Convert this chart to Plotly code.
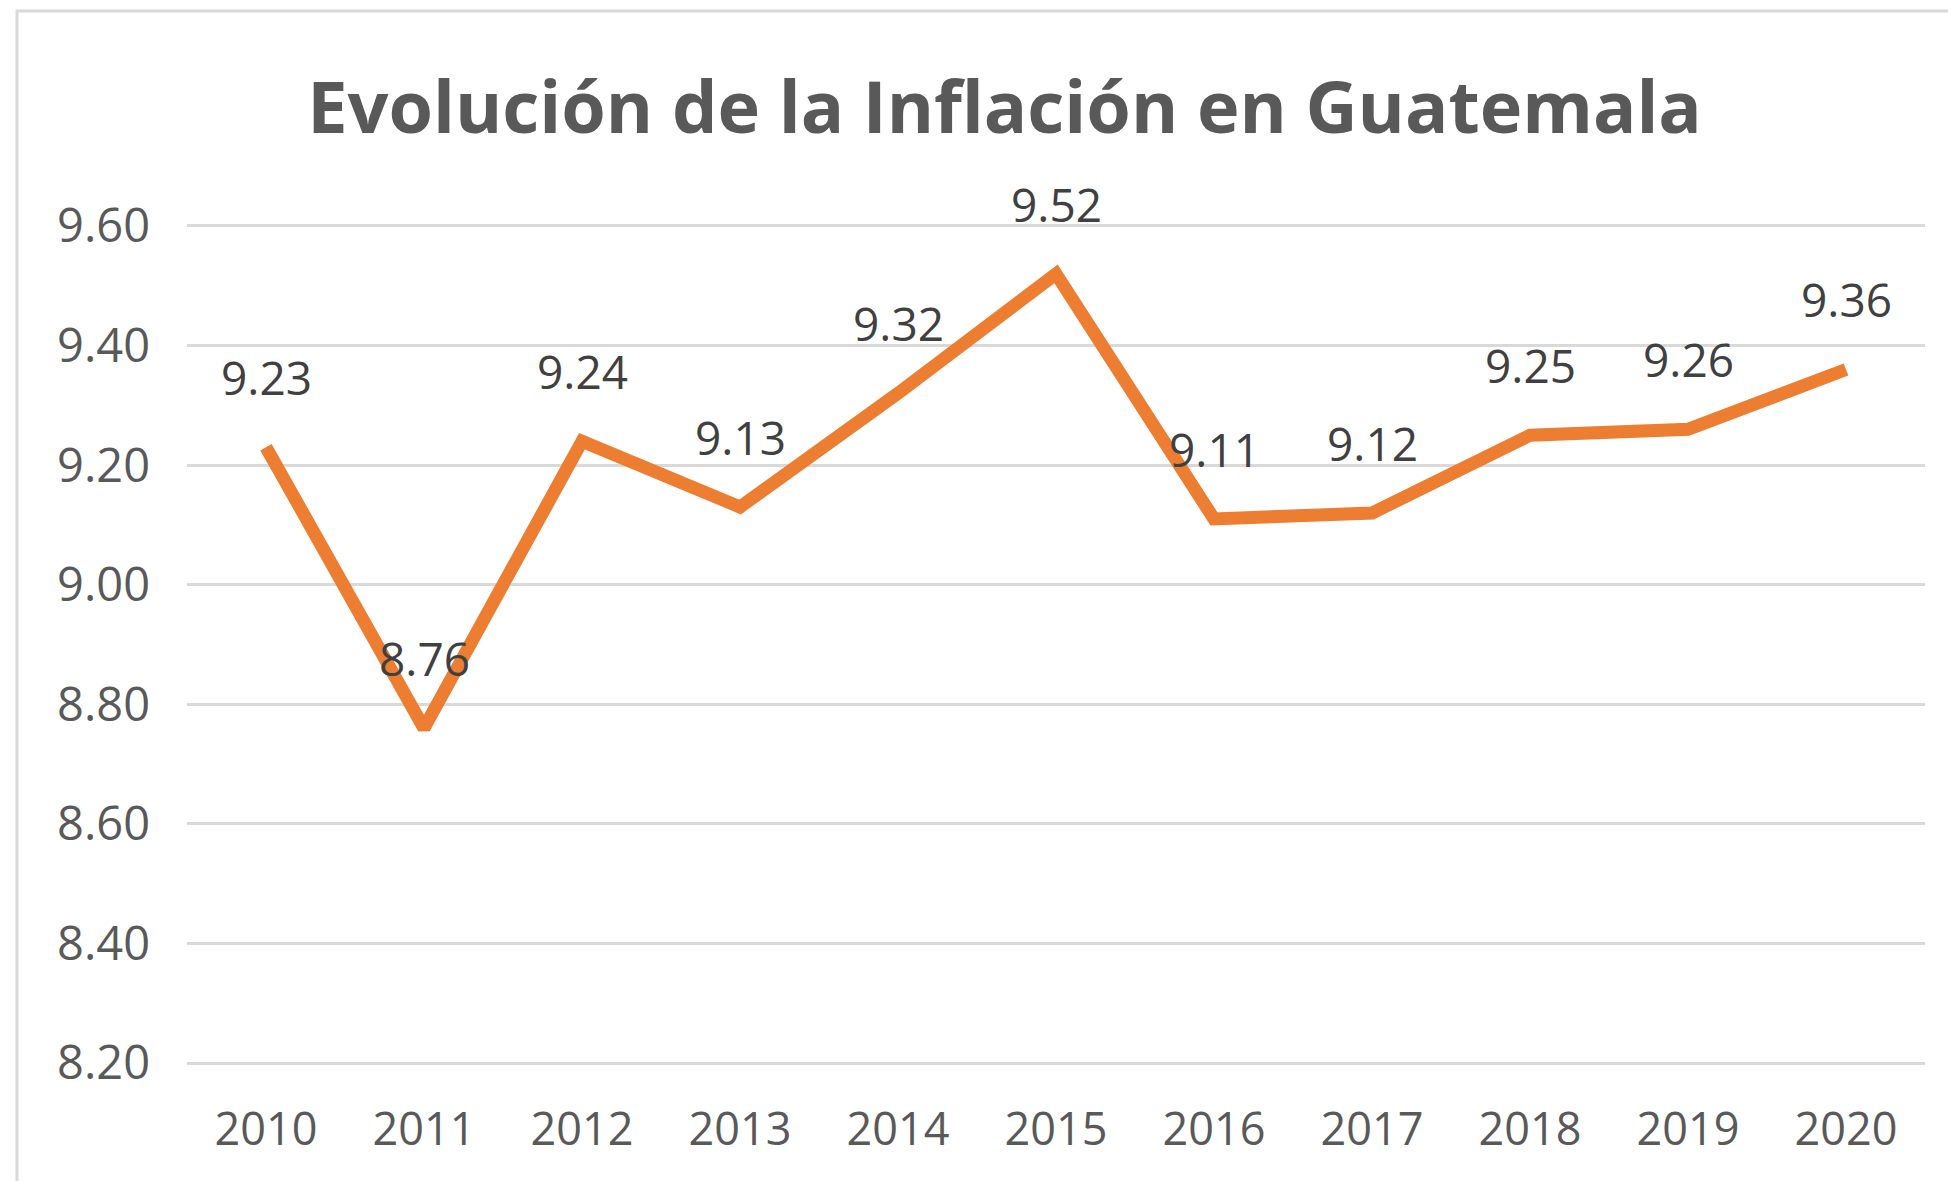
import plotly.graph_objects as go

years = ["2010", "2011", "2012", "2013", "2014", "2015", "2016", "2017", "2018", "2019", "2020"]
inflation = [9.23, 8.76, 9.24, 9.13, 9.32, 9.52, 9.11, 9.12, 9.25, 9.26, 9.36]
y_ticks = [8.20, 8.40, 8.60, 8.80, 9.00, 9.20, 9.40, 9.60]
title_text = "Evolución de la Inflación en Guatemala"

# page body has an 8px default margin; compensate so the screenshot matches
OFF = 8
W, H = 1956, 1181
eps = 0.005
ml, mr, mt, mb = 187 - OFF, 31 + OFF, 226 - OFF - 3, 118 + OFF - 3
FONT = "Open Sans"
TXT = "#595959"

fig = go.Figure()
fig.add_trace(go.Scatter(
    x=years, y=inflation, mode="lines",
    line=dict(color="#ED7D31", width=13),
    hoverinfo="x+y", showlegend=False,
))

for i, v in enumerate(inflation):
    fig.add_annotation(
        xref="x", yref="y", x=i, y=v, text=f"{v:.2f}", showarrow=False,
        yshift=70, font=dict(family=FONT, size=46, color="#404040"),
    )

pw = W - ml - mr
ph = H - mt - mb
fig.add_shape(
    type="rect", xref="paper", yref="paper",
    x0=(17 - OFF - ml) / pw, x1=(W + 20 - ml) / pw,
    y0=-(H + 20 - mt - ph) / ph, y1=1 + (mt - (11 - OFF)) / ph,
    line=dict(color="#D9D9D9", width=3), fillcolor="rgba(0,0,0,0)", layer="below",
)

fig.update_layout(
    width=W, height=H,
    margin=dict(l=ml, r=mr, t=mt, b=mb, autoexpand=False),
    paper_bgcolor="white", plot_bgcolor="white",
    title=dict(
        text=f"<b>{title_text}</b>", x=((306 + 1703) / 2 - OFF) / W, xanchor="center",
        y=1 - (108 - OFF) / H, yanchor="middle", yref="container",
        font=dict(family=FONT, size=72, color=TXT),
    ),
    xaxis=dict(
        type="category", range=[-0.5, len(years) - 0.5], automargin=False,
        showgrid=False, showline=False, zeroline=False, ticks="",
        tickfont=dict(family=FONT, size=45, color=TXT), ticklabelstandoff=33,
    ),
    yaxis=dict(
        range=[y_ticks[0] - eps, y_ticks[-1] + eps], tickvals=y_ticks, automargin=False,
        ticktext=[f"{t:.2f}" for t in y_ticks],
        showgrid=True, gridcolor="#D9D9D9", gridwidth=3,
        zeroline=False, showline=False, ticks="",
        tickfont=dict(family=FONT, size=47, color=TXT), ticklabelstandoff=36,
    ),
)

fig.write_html("out.html")
